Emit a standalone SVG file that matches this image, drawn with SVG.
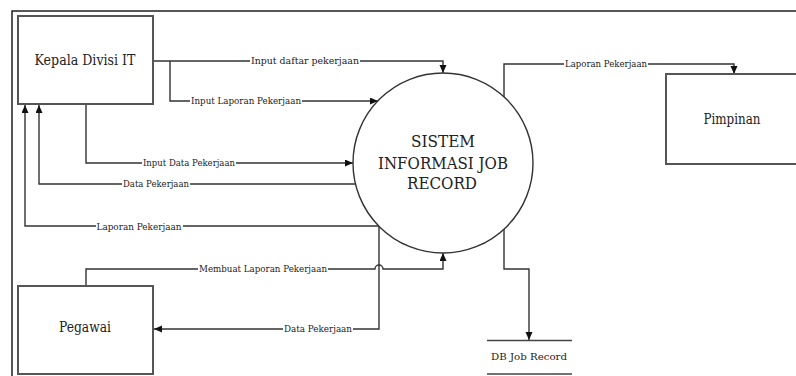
<svg xmlns="http://www.w3.org/2000/svg" width="796" height="376" viewBox="0 0 796 376">
<style>
.box{fill:#fff;stroke:#555;stroke-width:2}
.ln{fill:none;stroke:#333;stroke-width:1.4}
.bg{fill:#fff}
text{font-family:"DejaVu Serif",serif;fill:#222;text-anchor:middle}
.lbl{font-size:8.5px}
.big{font-size:14px}
.ctx{font-size:16.5px}
</style>
<defs>
<marker id="arr" markerUnits="userSpaceOnUse" markerWidth="9" markerHeight="8" refX="8" refY="3.5" orient="auto">
<path d="M0,0 L8,3.5 L0,7 z" fill="#111"/>
</marker>
</defs>
<rect width="796" height="376" fill="#fff"/>
<rect x="12" y="11" width="800" height="400" fill="none" stroke="#111" stroke-width="1.4"/>
<g id="connectors">
<path class="ln" d="M153,61 H443 V73" marker-end="url(#arr)"/>
<path class="ln" d="M170,61 V101 H378" marker-end="url(#arr)"/>
<path class="ln" d="M86,104 V163 H353" marker-end="url(#arr)"/>
<path class="ln" d="M355,184 H39 V105" marker-end="url(#arr)"/>
<path class="ln" d="M379,226 H25 V105" marker-end="url(#arr)"/>
<path class="ln" d="M379,226 V329 H154" marker-end="url(#arr)"/>
<path class="ln" d="M86,286 V269 H375 a4,4 0 0 1 8,0 H443 V253" marker-end="url(#arr)"/>
<path class="ln" d="M504,97 V64 H734 V74" marker-end="url(#arr)"/>
<path class="ln" d="M504,229 V269 H529 V340" marker-end="url(#arr)"/>
<rect class="bg" x="250" y="57" width="110" height="8"/>
<rect class="bg" x="190" y="97" width="112" height="8"/>
<rect class="bg" x="142" y="159" width="94" height="8"/>
<rect class="bg" x="122" y="180" width="68" height="8"/>
<rect class="bg" x="96" y="223" width="87" height="8"/>
<rect class="bg" x="198" y="265" width="130" height="8"/>
<rect class="bg" x="283" y="325" width="70" height="8"/>
<rect class="bg" x="564" y="60" width="84" height="8"/>
<text class="lbl" x="305" y="64" textLength="108" lengthAdjust="spacingAndGlyphs">Input daftar pekerjaan</text>
<text class="lbl" x="246" y="104" textLength="110" lengthAdjust="spacingAndGlyphs">Input Laporan Pekerjaan</text>
<text class="lbl" x="189" y="166" textLength="92" lengthAdjust="spacingAndGlyphs">Input Data Pekerjaan</text>
<text class="lbl" x="156" y="187" textLength="66" lengthAdjust="spacingAndGlyphs">Data Pekerjaan</text>
<text class="lbl" x="139" y="230" textLength="85" lengthAdjust="spacingAndGlyphs">Laporan Pekerjaan</text>
<text class="lbl" x="263" y="272" textLength="128" lengthAdjust="spacingAndGlyphs">Membuat Laporan Pekerjaan</text>
<text class="lbl" x="318" y="332" textLength="68" lengthAdjust="spacingAndGlyphs">Data Pekerjaan</text>
<text class="lbl" x="606" y="67" textLength="82" lengthAdjust="spacingAndGlyphs">Laporan Pekerjaan</text>
</g>
<g id="kepala">
<rect class="box" x="18" y="16" width="135" height="88"/>
<text class="big" x="85" y="65" textLength="101" lengthAdjust="spacingAndGlyphs">Kepala Divisi IT</text>
</g>
<g id="pegawai">
<rect class="box" x="18" y="286" width="135" height="88"/>
<text class="big" x="85" y="332" textLength="52" lengthAdjust="spacingAndGlyphs">Pegawai</text>
</g>
<g id="pimpinan">
<rect class="box" x="666" y="74" width="140" height="90"/>
<text class="big" x="732" y="124" textLength="57" lengthAdjust="spacingAndGlyphs">Pimpinan</text>
</g>
<g id="sistem">
<circle cx="443" cy="163" r="90" fill="#fff" stroke="#333" stroke-width="1.4"/>
<text class="ctx" x="443" y="147" textLength="64" lengthAdjust="spacingAndGlyphs">SISTEM</text>
<text class="ctx" x="443" y="169" textLength="130" lengthAdjust="spacingAndGlyphs">INFORMASI JOB</text>
<text class="ctx" x="442" y="189" textLength="70" lengthAdjust="spacingAndGlyphs">RECORD</text>
</g>
<g id="db">
<line x1="487" y1="340.5" x2="572" y2="340.5" stroke="#444" stroke-width="1.6"/>
<line x1="487" y1="374" x2="572" y2="374" stroke="#444" stroke-width="1.6"/>
<text class="lbl" x="529" y="360" textLength="76" lengthAdjust="spacingAndGlyphs">DB Job Record</text>
</g>
</svg>
